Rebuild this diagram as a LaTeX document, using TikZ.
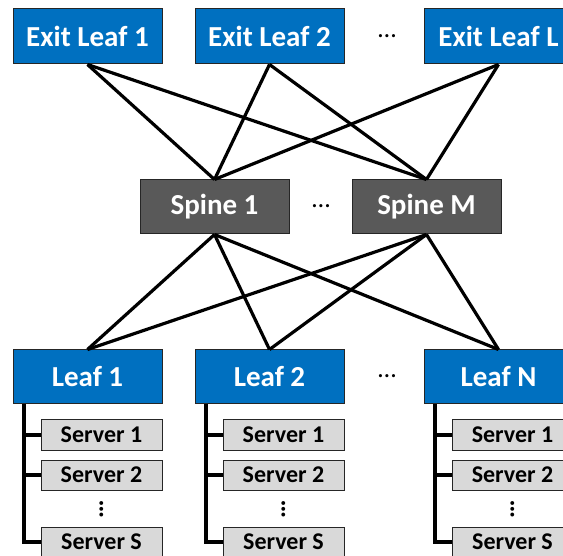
\documentclass[tikz,border=0pt]{standalone}
\usepackage{fontspec}
\setmainfont{Carlito}
\definecolor{leafblue}{HTML}{0070C0}
\definecolor{spinegray}{HTML}{595959}
\definecolor{servergray}{HTML}{D9D9D9}
\definecolor{edgegray}{HTML}{262626}
\tikzset{
  bigbox/.style={draw=edgegray, line width=1pt, minimum width=149pt, minimum height=55pt, inner sep=0pt,
    text=white, font=\fontsize{29}{29}\selectfont\bfseries},
  leafbox/.style={bigbox, fill=leafblue},
  spinebox/.style={bigbox, fill=spinegray},
  serverbox/.style={draw=edgegray, line width=1pt, fill=servergray, minimum width=121pt, minimum height=30pt,
    inner sep=0pt, text=black, font=\fontsize{24}{24}\selectfont\bfseries},
  link/.style={line width=3.2pt, black},
  tree/.style={line width=3.2pt, black},
  dotsnode/.style={font=\fontsize{26}{26}\selectfont, inner sep=0pt},
}
\begin{document}
\begin{tikzpicture}[x=1pt,y=-1pt]
\clip (0,0) rectangle (563,556);
% exit leaves
\node[leafbox] (el1) at (87.5,36.5) {Exit Leaf 1};
\node[leafbox] (el2) at (269.5,36.5) {Exit Leaf 2};
\node[leafbox] (ell) at (498.5,36.5) {Exit Leaf L};
\node[dotsnode] (d1) at (387,36) {\dots};
% spines
\node[spinebox, minimum height=54pt] (s1) at (214.5,207) {Spine 1};
\node[spinebox, minimum height=54pt] (sm) at (426.5,207) {Spine M};
\node[dotsnode] (d2) at (321,206) {\dots};
% leaves
\node[leafbox, minimum height=54pt] (l1) at (87.5,377) {Leaf 1};
\node[leafbox, minimum height=54pt] (l2) at (269.5,377) {Leaf 2};
\node[leafbox, minimum height=54pt] (ln) at (498.5,377) {Leaf N};
\node[dotsnode] (d3) at (387,376) {\dots};
% links exit leaves - spines
\foreach \e in {el1,el2,ell}{
  \foreach \s in {s1,sm}{
    \draw[link] (\e.south) -- (\s.north);
  }
}
% links spines - leaves
\foreach \s in {s1,sm}{
  \foreach \l in {l1,l2,ln}{
    \draw[link] (\s.south) -- (\l.north);
  }
}
% servers
\foreach \l/\cx in {l1/87.5,l2/269.5,ln/498.5}{
  \node[serverbox] (\l a) at (\cx+14,435) {Server 1};
  \node[serverbox] (\l b) at (\cx+14,475) {Server 2};
  \node[serverbox] (\l s) at (\cx+14,542) {Server S};
  \node[font=\fontsize{26}{26}\selectfont\bfseries, inner sep=0pt] (\l v) at (\cx+14,509) {\rotatebox{90}{\dots}};
  \coordinate (\l top) at (\cx-63.5,404);
  \coordinate (\l bot) at (\cx-63.5,542);
  \draw[tree] (\l top) -- (\l bot) -- (\l s.west);
  \draw[tree] (\l top |- \l a.west) -- (\l a.west);
  \draw[tree] (\l top |- \l b.west) -- (\l b.west);
}
\end{tikzpicture}
\end{document}
